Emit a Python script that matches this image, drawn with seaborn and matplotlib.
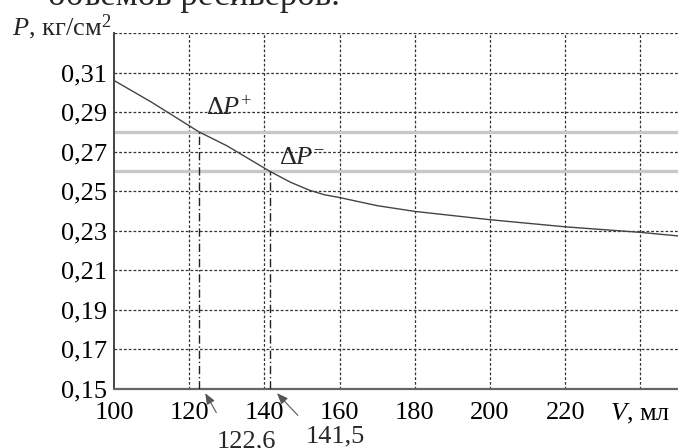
import matplotlib.pyplot as plt
import matplotlib.transforms as mtransforms
import numpy as np
import pandas as pd
import seaborn as sns

# кривая P(V)
volume = [100, 110, 122.6, 130, 141.5, 147, 152, 156, 160, 170, 180, 200, 220, 240, 250]
pressure = [0.306, 0.295, 0.280, 0.273, 0.260, 0.2545, 0.2505, 0.2482, 0.2468, 0.2427,
            0.2398, 0.2356, 0.2320, 0.2292, 0.2274]

# допуски по давлению и соответствующие объёмы
p_levels = [0.28, 0.26]
v_marks = [122.6, 141.5]
v_mark_labels = ["122,6", "141,5"]
delta_labels = [r"$\Delta P^{+}$", r"$\Delta P^{-}$"]
delta_pos = [(124.5, 0.292), (144, 0.267)]

x_ticks = [100, 120, 140, 160, 180, 200, 220, 240]
x_tick_labels = ["100", "120", "140", "160", "180", "200", "220", r"$V$, мл"]
y_ticks = [0.15, 0.17, 0.19, 0.21, 0.23, 0.25, 0.27, 0.29, 0.31]
y_tick_labels = ["0,15", "0,17", "0,19", "0,21", "0,23", "0,25", "0,27", "0,29", "0,31"]

FS = 19

sns.set_theme(style="white")
plt.rcParams['font.family'] = ['Liberation Serif', 'DejaVu Serif']
plt.rcParams['mathtext.fontset'] = 'custom'
plt.rcParams['mathtext.rm'] = 'Liberation Serif'
plt.rcParams['mathtext.it'] = 'Liberation Serif:italic'

fig = plt.figure(figsize=(6.78, 4.48), dpi=100)
ax = fig.add_axes([114 / 678, 59 / 448, 564 / 678, 356 / 448])

# сетка
grid_kw = dict(color='#333333', lw=0.9, dashes=(2.2, 1.6), zorder=1)
for v in x_ticks[1:]:
    ax.axvline(v, **grid_kw)
for p in y_ticks[1:] + [0.33]:
    ax.axhline(p, **grid_kw)

for p in p_levels:
    ax.axhline(p, color='#c8c8c8', lw=2.4, zorder=2)

df = pd.DataFrame({'V': volume, 'P': pressure})
sns.lineplot(data=df, x='V', y='P', color='#444444', lw=1.0, ax=ax, zorder=4)

for v, p in zip(v_marks, p_levels):
    ax.plot([v, v], [0.15, p], color='#222222', lw=1.0, dashes=(6, 2, 1, 2), zorder=3)

for (vx, py), s in zip(delta_pos, delta_labels):
    ax.text(vx, py, s, fontsize=FS, ha='left', va='center', zorder=5)

# стрелки и подписи под осью
arrow_offsets = [((4.5, -3), (8, -14)), ((5, -3), (15, -16))]
label_offsets = [(34, -38), (47, -34)]
for v, lab, (tip, tail), lo in zip(v_marks, v_mark_labels, arrow_offsets, label_offsets):
    tr_tip = mtransforms.offset_copy(ax.transData, fig, x=tip[0], y=tip[1], units='points')
    ax.annotate('', xy=(v, 0.15), xycoords=tr_tip,
                xytext=tail, textcoords='offset points',
                arrowprops=dict(arrowstyle='-|>,head_length=0.55,head_width=0.22',
                                color='#555555', lw=0.8, shrinkA=0, shrinkB=0,
                                mutation_scale=12, facecolor='black'),
                annotation_clip=False)
    ax.annotate(lab, xy=(v, 0.15), xytext=lo, textcoords='offset points',
                ha='center', va='center', fontsize=FS, annotation_clip=False)

ax.set_xlim(100, 250)
ax.set_ylim(0.15, 0.33)
ax.set_xticks(x_ticks)
ax.set_xticklabels(x_tick_labels)
ax.set_yticks(y_ticks)
ax.set_yticklabels(y_tick_labels)
ax.set_xlabel('')
ax.set_ylabel('')
ax.tick_params(axis='both', labelsize=FS, colors='black', length=4, width=1, direction='out', pad=1)
ax.tick_params(axis='x', direction='inout', length=5, pad=7)

for side in ['top', 'right']:
    ax.spines[side].set_visible(False)
ax.spines['left'].set_color('#444444')
ax.spines['left'].set_linewidth(1.4)
ax.spines['bottom'].set_color('#666666')
ax.spines['bottom'].set_linewidth(1.6)

ax.text(-0.005, 1 - 2 / 356, r"$P$, кг/см$^2$", transform=ax.transAxes, fontsize=FS,
        ha='right', va='baseline')

# обрезанная строка текста сверху
fig.text(340 / 678, 1 - 5 / 448, "объемов ресиверов.", fontsize=25, ha='right', va='baseline')

fig.savefig('out.png', dpi=100)
